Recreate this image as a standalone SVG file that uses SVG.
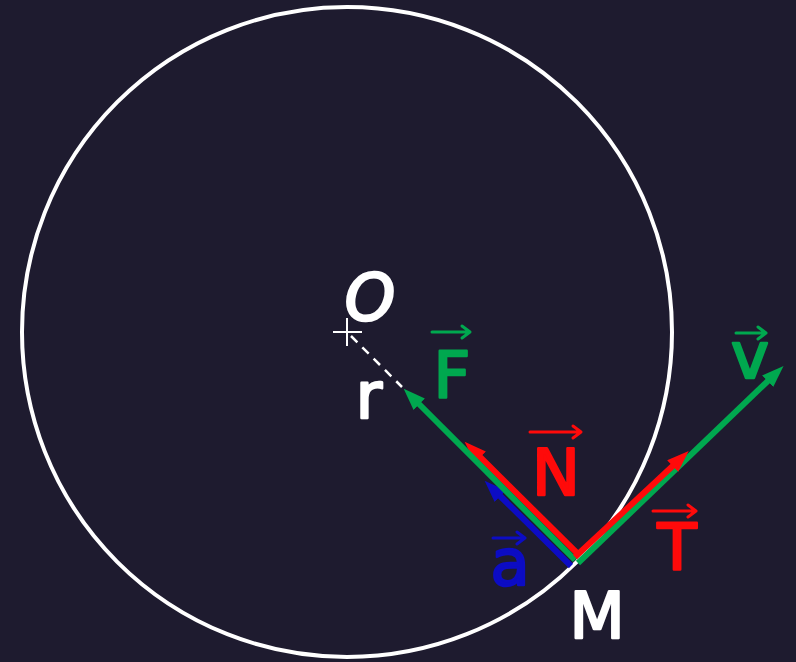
<svg xmlns="http://www.w3.org/2000/svg" width="796" height="662" viewBox="0 0 796 662">
<style>
.lbl{font-family:"DejaVu Sans","Liberation Sans",sans-serif;font-size:64px;text-anchor:middle;stroke-width:2.5;stroke-linejoin:round}
.w{fill:#ffffff;stroke:#ffffff}.g{fill:#00a84f;stroke:#00a84f}.r{fill:#ff0a0a;stroke:#ff0a0a}.b{fill:#0c0cc4;stroke:#0c0cc4}
.vec{stroke-width:3;fill:none;stroke-linecap:round;stroke-linejoin:round}
.shaft{stroke-width:6;fill:none}
</style>
<defs>
<marker id="hg" markerUnits="userSpaceOnUse" markerWidth="24" markerHeight="18" refX="6" refY="8" orient="auto"><path d="M0,0 L22,8 L0,16 z" fill="#00a84f"/></marker>
<marker id="hr" markerUnits="userSpaceOnUse" markerWidth="24" markerHeight="18" refX="6" refY="8" orient="auto"><path d="M0,0 L22,8 L0,16 z" fill="#ff0a0a"/></marker>
<marker id="hb" markerUnits="userSpaceOnUse" markerWidth="24" markerHeight="18" refX="6" refY="8" orient="auto"><path d="M0,0 L22,8 L0,16 z" fill="#0c0cc4"/></marker>
</defs>
<rect x="0" y="0" width="796" height="662" fill="#1e1b2f"/>
<g id="circle"><circle cx="347" cy="332" r="325" fill="none" stroke="#ffffff" stroke-width="4"/></g>
<g id="center">
<line x1="333" y1="332" x2="362" y2="332" stroke="#ffffff" stroke-width="2"/>
<line x1="347" y1="318" x2="347" y2="346" stroke="#ffffff" stroke-width="2"/>
<text class="lbl w" x="370" y="320" font-style="italic">O</text>
</g>
<g id="connectors">
<line x1="351" y1="336" x2="402" y2="387" stroke="#ffffff" stroke-width="2.5" stroke-dasharray="9 7"/>
<line class="shaft" x1="571" y1="566" x2="496" y2="492" stroke="#0c0cc4" marker-end="url(#hb)"/>
<line class="shaft" x1="579" y1="555" x2="476" y2="453" stroke="#ff0a0a" marker-end="url(#hr)"/>
<line class="shaft" x1="575" y1="560" x2="415" y2="400" stroke="#00a84f" stroke-width="5" marker-end="url(#hg)"/>
<line class="shaft" x1="578" y1="563" x2="772" y2="377" stroke="#00a84f" stroke-width="5" marker-end="url(#hg)"/>
<line class="shaft" x1="575" y1="557" x2="677" y2="462" stroke="#ff0a0a" marker-end="url(#hr)"/>
</g>
<g id="label-r"><text class="lbl w" x="369" y="418">r</text></g>
<g id="label-M"><text class="lbl w" x="597" y="638">M</text></g>
<g id="label-F">
<text class="lbl g" x="452" y="397">F</text>
<path class="vec" d="M432,332 H470 M462,326 L470,332 L462,338" stroke="#00a84f"/>
</g>
<g id="label-N">
<text class="lbl r" x="556" y="495">N</text>
<path class="vec" d="M530,432 H581 M573,426 L581,432 L573,438" stroke="#ff0a0a"/>
</g>
<g id="label-a">
<text class="lbl b" x="510" y="585">a</text>
<path class="vec" d="M493,538 H525 M517,532 L525,538 L517,544" stroke="#0c0cc4"/>
</g>
<g id="label-v">
<text class="lbl g" x="750" y="378">v</text>
<path class="vec" d="M736,333 H766 M758,327 L766,333 L758,339" stroke="#00a84f"/>
</g>
<g id="label-T">
<text class="lbl r" x="677" y="570">T</text>
<path class="vec" d="M653,511 H696 M688,505 L696,511 L688,517" stroke="#ff0a0a"/>
</g>
</svg>
